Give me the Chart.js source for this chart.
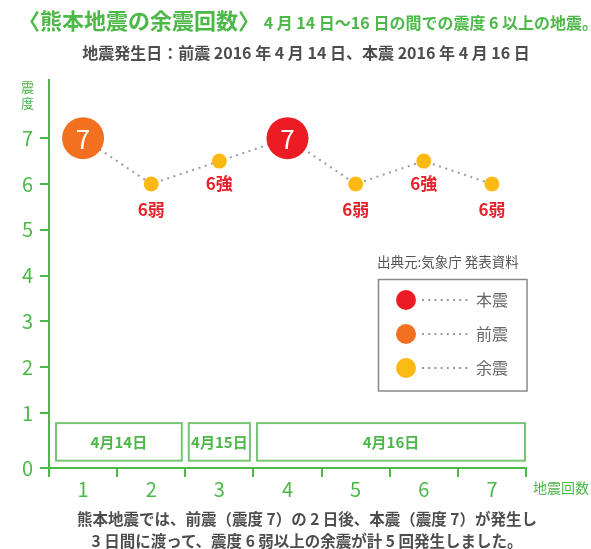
<!DOCTYPE html>
<html><head><meta charset="utf-8">
<script src="https://cdn.jsdelivr.net/npm/chart.js@4"></script>
<style>
html,body{margin:0;padding:0;background:#fff;}
#wrap{position:relative;width:591px;height:549px;overflow:hidden;font-family:"Noto Sans CJK JP",sans-serif;}
canvas{position:absolute;left:0;top:0;}
.t{position:absolute;white-space:nowrap;line-height:1;}
</style></head><body>
<div id="wrap">
<canvas id="c" width="591" height="549"></canvas>
<div class="t" style="left:18px;top:8px;color:#4cb848;font-weight:bold;"><span style="font-size:22px;">〈熊本地震の余震回数〉</span><span style="font-size:16px;"> 4 月 14 日～16 日の間での震度 6 以上の地震。</span></div>
<div class="t" style="left:0;width:612px;text-align:center;top:44px;color:#4d4d4d;font-weight:bold;font-size:16px;">地震発生日：前震 2016 年 4 月 14 日、本震 2016 年 4 月 16 日</div>
<div class="t" style="left:21px;top:79px;color:#4cb848;font-size:13px;line-height:16px;text-align:center;">震<br>度</div>
<div class="t" style="left:533px;top:480px;color:#4cb848;font-size:14px;">地震回数</div>
<div class="t" style="left:0;width:614px;text-align:center;top:507px;color:#4d4d4d;font-weight:bold;font-size:15.5px;line-height:22px;">熊本地震では、前震（震度 7）の 2 日後、本震（震度 7）が発生し<br>3 日間に渡って、震度 6 弱以上の余震が計 5 回発生しました。</div>
</div>
<script>
const categories = ['1','2','3','4','5','6','7'];
const intensity = [7, 6, 6.5, 7, 6, 6.5, 6];
const intensityLabels = ['7','6弱','6強','7','6弱','6強','6弱'];
const quakeType = ['前震','余震','余震','本震','余震','余震','余震'];
const yTickLabels = ['0','1','2','3','4','5','6','7'];
const dayLabels = ['4月14日','4月15日','4月16日'];
const dayStart = [0, 2, 3];
const dayEnd = [1, 2, 6];
const legendLabels = ['本震','前震','余震'];
const sourceText = '出典元:気象庁 発表資料';

const GREEN = '#4cb848';
const typeColor = {'本震':'#ed1c24','前震':'#f37021','余震':'#fdb913'};
const FONT = '"Noto Sans CJK JP", sans-serif';
const BASE0 = -0.2; // axis baseline drawn slightly below 1 (broken scale)

const labelPlugin = {
  id: 'pointLabels',
  afterDatasetsDraw(chart) {
    const ctx = chart.ctx;
    const meta = chart.getDatasetMeta(0);
    meta.data.forEach((pt, i) => {
      ctx.save();
      ctx.textAlign = 'center';
      ctx.textBaseline = 'middle';
      if (quakeType[i] !== '余震') {
        ctx.fillStyle = '#ffffff';
        ctx.font = '26px ' + FONT;
        ctx.fillText(intensityLabels[i], pt.x, pt.y + 1);
      } else {
        ctx.fillStyle = '#e8202a';
        ctx.font = 'bold 17px ' + FONT;
        const off = intensity[i] > 6 ? 22 : 26;
        ctx.fillText(intensityLabels[i], pt.x, pt.y + off);
      }
      ctx.restore();
    });
  }
};

const dayPlugin = {
  id: 'dayBoxes',
  beforeDatasetsDraw(chart) {
    const ctx = chart.ctx, xs = chart.scales.x, ys = chart.scales.y;
    const half = (xs.getPixelForValue(1) - xs.getPixelForValue(0)) / 2;
    const top = ys.getPixelForValue(0.78), bot = ys.getPixelForValue(-0.04);
    dayLabels.forEach((lab, k) => {
      const l = xs.getPixelForValue(dayStart[k]) - half + (k === 0 ? 7 : 3.5);
      const r = xs.getPixelForValue(dayEnd[k]) + half - (k === dayLabels.length - 1 ? 1 : 3.5);
      ctx.save();
      ctx.strokeStyle = '#74c673';
      ctx.lineWidth = 2;
      ctx.strokeRect(l, top, r - l, bot - top);
      ctx.fillStyle = GREEN;
      ctx.font = 'bold 15px ' + FONT;
      ctx.textAlign = 'center';
      ctx.textBaseline = 'middle';
      ctx.fillText(lab, (l + r) / 2, (top + bot) / 2);
      ctx.restore();
    });
  }
};

const legendPlugin = {
  id: 'customLegend',
  afterDraw(chart) {
    const ctx = chart.ctx;
    ctx.save();
    ctx.fillStyle = '#555';
    ctx.font = '13.5px ' + FONT;
    ctx.textAlign = 'left';
    ctx.textBaseline = 'middle';
    ctx.fillText(sourceText, 377, 262);
    ctx.strokeStyle = '#888';
    ctx.lineWidth = 1.5;
    ctx.strokeRect(378.5, 279.5, 148.5, 111.5);
    legendLabels.forEach((lab, k) => {
      const y = 300 + k * 34;
      ctx.fillStyle = typeColor[lab];
      ctx.beginPath(); ctx.arc(406, y, 10, 0, Math.PI * 2); ctx.fill();
      ctx.fillStyle = '#999';
      for (let x = 422; x <= 470; x += 6.2) ctx.fillRect(x, y - 1, 2, 2);
      ctx.fillStyle = '#666';
      ctx.font = '16px ' + FONT;
      ctx.fillText(lab, 476, y);
    });
    ctx.restore();
  }
};

new Chart(document.getElementById('c'), {
  type: 'line',
  data: {
    labels: categories,
    datasets: [{
      data: intensity,
      borderColor: '#9b9b9b',
      borderWidth: 2,
      borderDash: [2, 4.6],
      tension: 0,
      fill: false,
      clip: false,
      pointRadius: ctx => quakeType[ctx.dataIndex] === '余震' ? 7.5 : 21,
      pointHoverRadius: ctx => quakeType[ctx.dataIndex] === '余震' ? 7.5 : 21,
      pointBackgroundColor: ctx => typeColor[quakeType[ctx.dataIndex]],
      pointBorderWidth: 0,
      pointHoverBorderWidth: 0
    }]
  },
  options: {
    responsive: false,
    animation: false,
    events: [],
    layout: { padding: { left: 0, top: 80, right: 65, bottom: 41 } },
    plugins: { legend: { display: false }, tooltip: { enabled: false } },
    scales: {
      x: {
        type: 'category',
        offset: true,
        grid: { offset: true, drawOnChartArea: false, drawTicks: true, tickLength: 9, color: GREEN, lineWidth: 2 },
        border: { display: true, color: GREEN, width: 2 },
        ticks: { color: GREEN, font: { size: 20, family: FONT }, padding: 0, maxRotation: 0 },
        afterFit: s => { s.height = 40; }
      },
      y: {
        min: BASE0,
        max: 8.27,
        afterBuildTicks: s => { s.ticks = yTickLabels.map((l, i) => ({ value: i === 0 ? BASE0 : Number(l) })); },
        grid: { drawOnChartArea: false, drawTicks: true, tickLength: 9, color: GREEN, lineWidth: 2 },
        border: { display: true, color: GREEN, width: 2 },
        ticks: { color: GREEN, font: { size: 20, family: FONT }, padding: 7, callback: (v, i) => yTickLabels[i] },
        afterFit: s => { s.width = 49; }
      }
    }
  },
  plugins: [dayPlugin, labelPlugin, legendPlugin]
});
</script>
</body></html>
